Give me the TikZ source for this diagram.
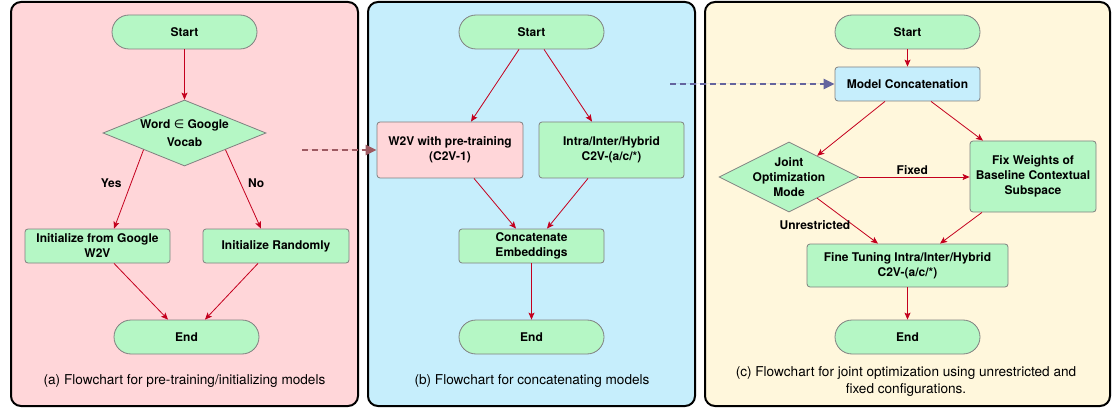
\documentclass[tikz,border=0pt]{standalone}
\usepackage{fontspec}
\setmainfont{TeX Gyre Heros}
\newfontfamily\symfamily{DejaVu Sans}
\usetikzlibrary{shapes.geometric,arrows.meta,calc}
\definecolor{nodegreen}{HTML}{B5F7C5}
\definecolor{panelpink}{HTML}{FFD6D9}
\definecolor{panelblue}{HTML}{C6EEFC}
\definecolor{panelcream}{HTML}{FFF7DC}
\definecolor{edgegray}{HTML}{808080}
\definecolor{arrowred}{HTML}{C4001E}
\definecolor{dashred}{HTML}{9E5A62}
\definecolor{dashblue}{HTML}{64649E}
\tikzset{
  panel/.style={draw=black, line width=2pt, rounded corners=10pt},
  nodetext/.style={font=\bfseries\fontsize{12}{15}\selectfont, align=center},
  term/.style={nodetext, draw=edgegray, line width=0.8pt, fill=nodegreen, rounded corners=17pt, minimum width=145pt, minimum height=34pt, inner sep=0pt},
  proc/.style={nodetext, draw=edgegray, line width=0.8pt, fill=nodegreen, rounded corners=3pt, minimum width=145pt, minimum height=34pt, inner sep=0pt},
  decision/.style={draw=edgegray, line width=0.8pt, fill=nodegreen, diamond, inner sep=0pt},
  dtext/.style={nodetext},
  flow/.style={draw=arrowred, line width=0.8pt, -{Stealth[length=7pt,width=6pt,inset=1.5pt]}},
  elabel/.style={font=\bfseries\fontsize{12}{14}\selectfont, inner sep=1pt},
  caption/.style={font=\fontsize{13.6}{17}\selectfont, align=center},
  link/.style={line width=2.2pt, dash pattern=on 6pt off 4pt, -{Triangle[length=11pt,width=10pt]}}
}
\begin{document}
\begin{tikzpicture}[x=1pt,y=-1pt]
\useasboundingbox (0,0) rectangle (1117,409);
% panels
\draw[panel, fill=panelpink] (11,2) rectangle (358,406);
\draw[panel, fill=panelblue] (368,2) rectangle (695,406);
\draw[panel, fill=panelcream] (705,2) rectangle (1110,406);

% ---------- panel (a)
\node[term] (a-start) at (184.5,32) {Start};
\node[decision, minimum width=163pt, minimum height=66pt,
  label={[dtext, font=\bfseries\fontsize{12}{18}\selectfont]center:Word {\mdseries\symfamily ∈} Google\\Vocab}] (a-dec) at (184.5,133) {};
\node[proc] (a-g) at (97.5,246) {Initialize from Google\\W2V};
\node[proc, minimum width=146pt] (a-r) at (276,246) {Initialize Randomly};
\node[term] (a-end) at (186.5,337) {End};
\node[caption] (a-cap) at (184.5,381) {(a) Flowchart for pre-training/initializing models};

\draw[flow] (a-start) -- (a-dec);
\draw[flow] ($(a-dec.south)!0.5!(a-dec.west)$) -- node[elabel, pos=0.43, left=8pt] {Yes} ([xshift=16.5pt]a-g.north);
\draw[flow] ($(a-dec.south)!0.5!(a-dec.east)$) -- node[elabel, pos=0.43, right=6pt] {No} ([xshift=-15pt]a-r.north);
\draw[flow] ([xshift=16.5pt]a-g.south) -- ([xshift=-18.5pt]a-end.north);
\draw[flow] ([xshift=-18pt]a-r.south) -- ([xshift=18.5pt]a-end.north);

% ---------- panel (b)
\node[term] (b-start) at (531.5,32) {Start};
\node[proc, fill=panelpink, minimum width=146pt, minimum height=56pt] (b-w2v) at (450,150) {W2V with pre-training\\(C2V-1)};
\node[proc, minimum height=56pt] (b-intra) at (611.5,150) {Intra/Inter/Hybrid\\C2V-(a/c/*)};
\node[proc] (b-cat) at (531.5,246) {Concatenate\\Embeddings};
\node[term] (b-end) at (531.5,337) {End};
\node[caption] (b-cap) at (532,381) {(b) Flowchart for concatenating models};

\draw[flow] ([xshift=-12.5pt]b-start.south) -- ([xshift=21pt]b-w2v.north);
\draw[flow] ([xshift=12.5pt]b-start.south) -- ([xshift=-19.5pt]b-intra.north);
\draw[flow] ([xshift=24pt]b-w2v.south) -- ([xshift=-15.5pt]b-cat.north);
\draw[flow] ([xshift=-23.5pt]b-intra.south) -- ([xshift=15.5pt]b-cat.north);
\draw[flow] (b-cat) -- (b-end);

% ---------- panel (c)
\node[term] (c-start) at (907.5,32) {Start};
\node[proc, fill=panelblue] (c-mc) at (907.5,84) {Model Concatenation};
\node[decision, minimum width=140pt, minimum height=70pt,
  label={[dtext]center:Joint\\Optimization\\Mode}] (c-dec) at (789,177) {};
\node[proc, minimum width=126pt, minimum height=71pt] (c-fix) at (1033,176.5) {Fix Weights of\\Baseline Contextual\\Subspace};
\node[proc, minimum width=201pt, minimum height=43pt] (c-fine) at (907.5,265.5) {Fine Tuning Intra/Inter/Hybrid\\C2V-(a/c/*)};
\node[term] (c-end) at (907.5,337) {End};
\node[caption] (c-cap) at (906,381.5) {(c) Flowchart for joint optimization using unrestricted and\\fixed configurations.};

\draw[flow] (c-start) -- (c-mc);
\draw[flow] ([xshift=-22.5pt]c-mc.south) -- ($(c-dec.north)!0.4!(c-dec.east)$);
\draw[flow] ([xshift=23.5pt]c-mc.south) -- ([xshift=-50pt]c-fix.north);
\draw[flow] (c-dec.east) -- node[elabel, above=1pt, pos=0.48] {Fixed} (c-dec.east -| c-fix.west);
\draw[flow] ($(c-dec.south)!0.4!(c-dec.east)$) -- node[elabel, pos=0.6, left=2pt] {Unrestricted} ([xshift=-29.5pt]c-fine.north);
\draw[flow] ([xshift=-51pt]c-fix.south) -- ([xshift=32.5pt]c-fine.north);
\draw[flow] (c-fine) -- (c-end);

% ---------- links between panels
\coordinate (a-out) at (302,150);
\coordinate (b-out) at (670,84);
\draw[link, draw=dashred, fill=dashred] (a-out) -- (a-out -| b-w2v.west);
\draw[link, draw=dashblue, fill=dashblue] (b-out) -- (b-out -| c-mc.west);
\end{tikzpicture}
\end{document}
